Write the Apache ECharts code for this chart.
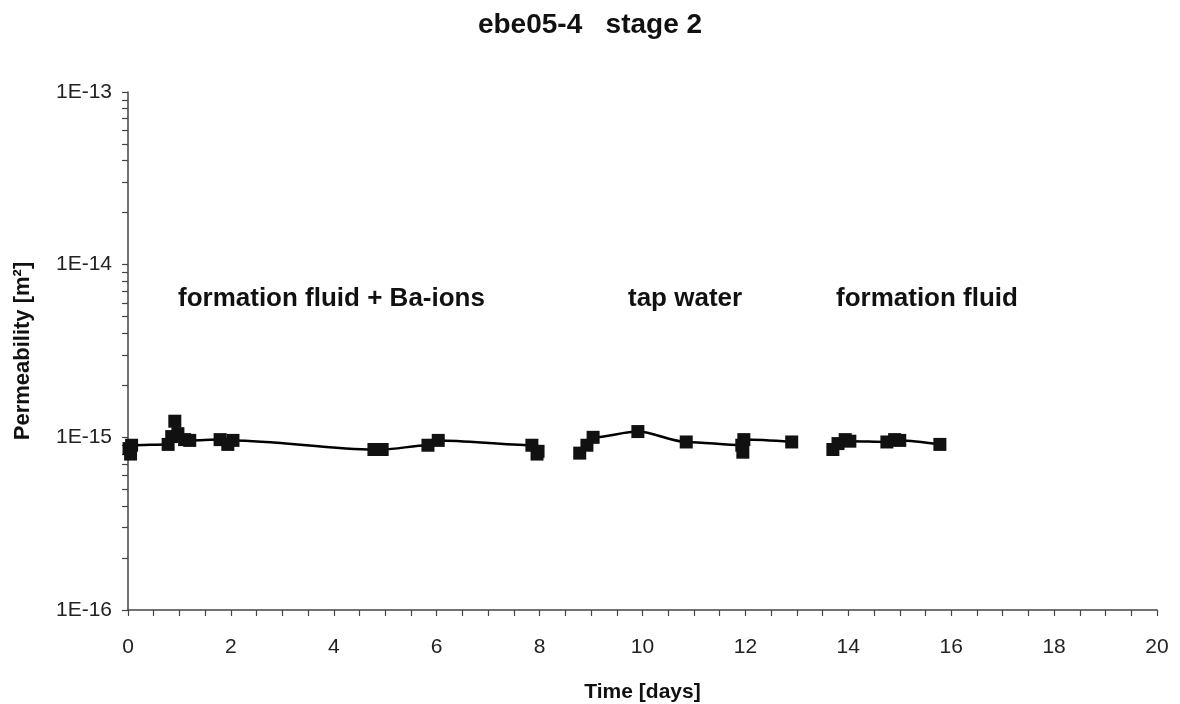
<!DOCTYPE html>
<html>
<head>
<meta charset="utf-8">
<script src="https://cdn.jsdelivr.net/npm/echarts@6/dist/echarts.min.js"></script>
<style>
  html, body { margin: 0; padding: 0; background: #fff; }
  #chart { width: 1180px; height: 704px; }
</style>
</head>
<body>
<div id="chart"></div>
<script>
// permeability values in m2, time in days
var baIons = [
    [0.02, 0.86e-15], [0.05, 0.80e-15], [0.07, 0.90e-15],
    [0.78, 0.91e-15], [0.85, 1.01e-15], [0.91, 1.24e-15], [0.97, 1.05e-15], [1.10, 0.97e-15], [1.20, 0.96e-15],
    [1.79, 0.97e-15], [1.94, 0.91e-15], [2.04, 0.96e-15],
    [4.78, 0.85e-15], [4.94, 0.85e-15],
    [5.83, 0.90e-15], [6.03, 0.96e-15],
    [7.85, 0.90e-15], [7.95, 0.80e-15], [7.97, 0.83e-15]
];
var tapWater = [
    [8.78, 0.81e-15], [8.92, 0.90e-15], [9.04, 1.00e-15],
    [9.91, 1.08e-15], [10.85, 0.94e-15],
    [11.93, 0.90e-15], [11.95, 0.82e-15], [11.97, 0.97e-15],
    [12.90, 0.94e-15]
];
var formationFluid = [
    [13.70, 0.85e-15], [13.80, 0.92e-15], [13.94, 0.97e-15], [14.03, 0.95e-15],
    [14.75, 0.94e-15], [14.90, 0.97e-15], [15.00, 0.96e-15],
    [15.78, 0.91e-15]
];

var xLabels = [0, 2, 4, 6, 8, 10, 12, 14, 16, 18, 20];
var yDecades = [1e-16, 1e-15, 1e-14, 1e-13];
var phaseNames = ['formation fluid + Ba-ions', 'tap water', 'formation fluid'];

// log-axis minor ticks: 1..9 times each decade
var yTicks = [];
yDecades.forEach(function (d, i) {
    if (i === yDecades.length - 1) { yTicks.push(d); return; }
    for (var k = 1; k < 10; k++) yTicks.push(k * d);
});

var font = 'Liberation Sans, Arial, sans-serif';

function lineSeries(name, data) {
    return {
        name: name,
        type: 'line',
        data: data,
        smooth: 0.3,
        smoothMonotone: 'x',
        symbol: 'rect',
        symbolSize: 13,
        lineStyle: { color: '#000', width: 2.5 },
        itemStyle: { color: '#111' },
        z: 3
    };
}

var chart = echarts.init(document.getElementById('chart'));
chart.setOption({
    animation: false,
    backgroundColor: '#fff',
    title: {
        text: 'ebe05-4   stage 2',
        left: 'center',
        top: 6,
        textStyle: { fontFamily: font, fontSize: 28, fontWeight: 'bold', color: '#111' }
    },
    grid: { left: 128, right: 23, top: 92, bottom: 94, outerBoundsMode: 'none' },
    xAxis: {
        type: 'value',
        min: 0,
        max: 20,
        interval: 2,
        name: 'Time [days]',
        nameLocation: 'middle',
        nameGap: 72,
        nameTextStyle: { fontFamily: font, fontSize: 21, fontWeight: 'bold', color: '#111' },
        axisLine: { lineStyle: { color: '#444', width: 1.5 } },
        axisTick: { length: 6, lineStyle: { color: '#444', width: 1.2 } },
        minorTick: { show: true, splitNumber: 4, length: 6, lineStyle: { color: '#444', width: 1.2 } },
        axisLabel: {
            customValues: xLabels,
            margin: 27,
            fontFamily: font, fontSize: 21, color: '#222'
        },
        splitLine: { show: false }
    },
    yAxis: {
        type: 'log',
        logBase: 10,
        min: 1e-16,
        max: 1e-13,
        name: 'Permeability [m²]',
        nameLocation: 'middle',
        nameGap: 94,
        nameTextStyle: { fontFamily: font, fontSize: 22, fontWeight: 'bold', color: '#111' },
        axisLine: { show: true, lineStyle: { color: '#444', width: 1.5 } },
        axisTick: { customValues: yTicks, length: 6, lineStyle: { color: '#444', width: 1.2 } },
        axisLabel: {
            customValues: yDecades,
            margin: 16,
            fontFamily: font, fontSize: 21, color: '#222',
            formatter: function (v) { return '1E' + Math.round(Math.log10(v)); }
        },
        splitLine: { show: false }
    },
    graphic: [
        { type: 'text', left: 178, top: 286, style: { text: phaseNames[0], font: 'bold 26px ' + font, fill: '#111' } },
        { type: 'text', left: 628, top: 286, style: { text: phaseNames[1], font: 'bold 26px ' + font, fill: '#111' } },
        { type: 'text', left: 836, top: 286, style: { text: phaseNames[2], font: 'bold 26px ' + font, fill: '#111' } }
    ],
    series: [
        lineSeries(phaseNames[0], baIons),
        lineSeries(phaseNames[1], tapWater),
        lineSeries(phaseNames[2], formationFluid)
    ]
});
</script>
</body>
</html>
